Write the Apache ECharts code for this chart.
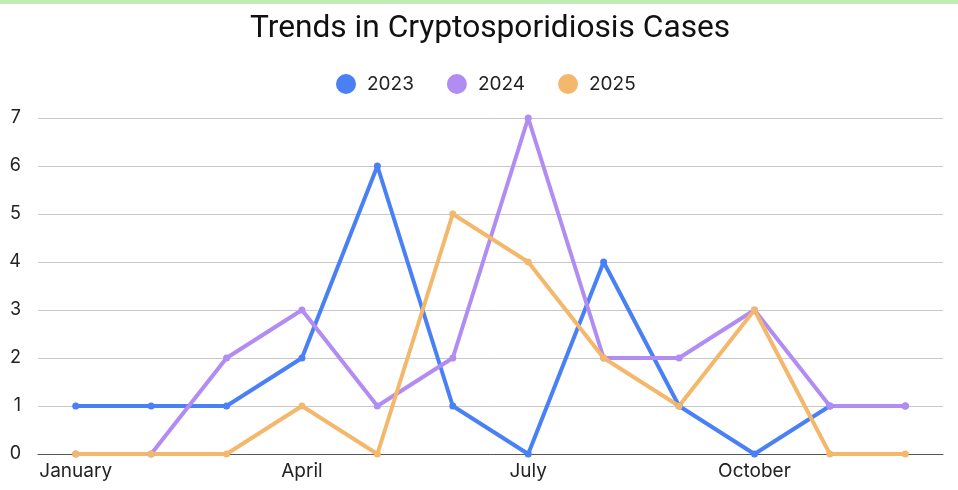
<!DOCTYPE html>
<html><head><meta charset="utf-8">
<script src="https://cdn.jsdelivr.net/npm/echarts@6/dist/echarts.min.js"></script>
<style>html,body{margin:0;padding:0;background:#fff}#bar{position:absolute;left:0;top:0;width:958px;height:4px;background:#c2ebb4}#c{width:958px;height:490px}</style>
</head><body><div id="c"></div><div id="bar"></div>
<script>
const months = ['January','February','March','April','May','June','July','August','September','October','November','December'];
const s2023 = [1,1,1,2,6,1,0,4,1,0,1,1];
const s2024 = [0,0,2,3,1,2,7,2,2,3,1,1];
const s2025 = [0,0,0,1,0,5,4,2,1,3,0,0];
const yTicks = [0,1,2,3,4,5,6,7];
const colors = ['#4a80f5','#b18cf2','#f3b86b'];
const chart = echarts.init(document.getElementById('c'));
function ser(name, data, color){
  return {name, type:'line', data, symbol:'circle', symbolSize:7, showSymbol:true,
    lineStyle:{width:4,color}, itemStyle:{color}, emphasis:{disabled:true}};
}
chart.setOption({
  animation:false,
  color:colors,
  title:{text:'Trends in Cryptosporidiosis Cases', left:245, top:8,
    textStyle:{fontFamily:'Roboto', fontSize:31.7, fontWeight:'normal', color:'#111'}},
  legend:{top:69, left:331, icon:'circle', itemWidth:20, itemHeight:20, itemGap:33, itemStyle:{borderWidth:0},
    textStyle:{fontFamily:'Inter', fontSize:19, color:'#222', padding:[0,0,0,6]}},
  grid:{left:38, right:15, top:118, bottom:36},
  xAxis:{type:'category', data:months, boundaryGap:true,
    axisLine:{lineStyle:{color:'#555', width:1}}, axisTick:{show:false},
    axisLabel:{interval:2, fontFamily:'Inter', fontSize:19, color:'#222', margin:8}},
  yAxis:{type:'value', min:0, max:7, interval:1,
    axisLabel:{fontFamily:'Inter', fontSize:18, color:'#222', margin:17, formatter:v=>yTicks.includes(v)?String(v):''},
    splitLine:{lineStyle:{color:'#c8c8c8'}}, axisLine:{show:false}, axisTick:{show:false}},
  series:[ser('2023',s2023,colors[0]), ser('2024',s2024,colors[1]), ser('2025',s2025,colors[2])]
});
</script></body></html>
